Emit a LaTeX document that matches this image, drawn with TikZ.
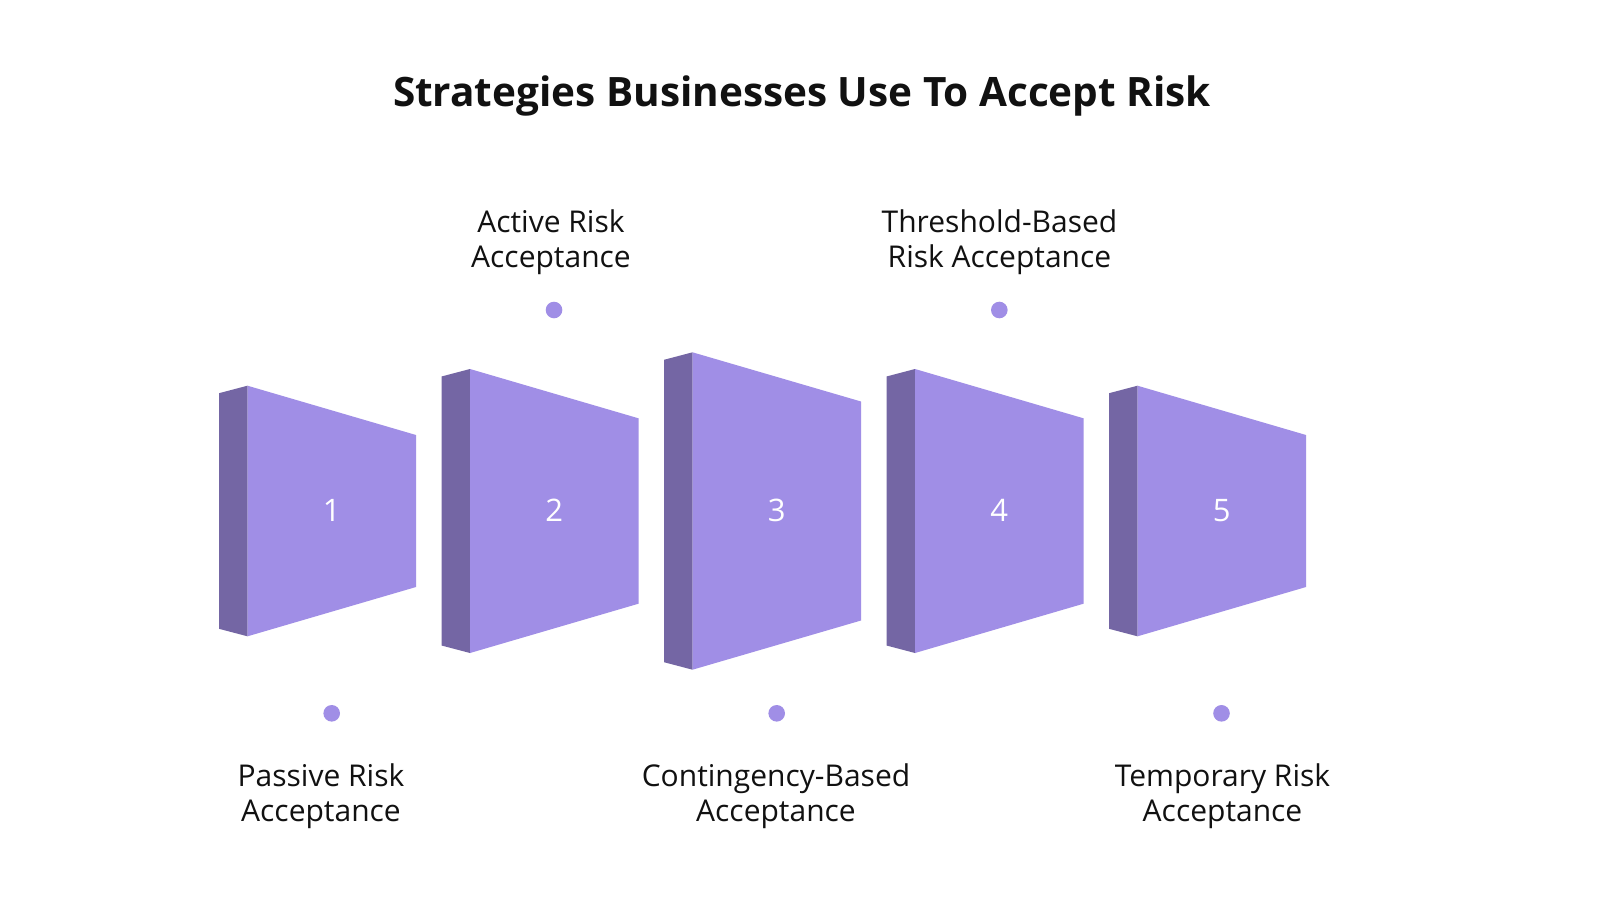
\documentclass[tikz,border=0pt]{standalone}
\usepackage{fontspec}
\setmainfont{Open Sans}
\definecolor{slabfront}{RGB}{160,142,230}
\definecolor{slabside}{RGB}{116,102,164}
\definecolor{labeltext}{RGB}{17,17,17}
\begin{document}
\begin{tikzpicture}[x=1pt,y=-1pt,
  titlestyle/.style={anchor=base,inner sep=0pt,text=labeltext,font=\fontsize{40.5}{48}\selectfont\bfseries},
  labelstyle/.style={anchor=base,inner sep=0pt,text=labeltext,font=\fontsize{30}{36}\selectfont},
  numstyle/.style={inner sep=0pt,text=white,font=\fontsize{31}{36}\selectfont},
  dotstyle/.style={circle,fill=slabfront,inner sep=0pt,minimum size=16.6pt}]
\useasboundingbox[fill=white] (0,0) rectangle (1600,900);
\node[titlestyle] (title) at (802,106.7) {Strategies Businesses Use To Accept Risk};
\foreach \i/\h/\r in {1/125.3/76, 2/142/92.7, 3/158.7/109.5, 4/142/92.7, 5/125.3/76} {
  \pgfmathsetmacro\sx{219+222.5*(\i-1)}
  \pgfmathsetmacro\fx{\sx+28.5}
  \pgfmathsetmacro\rx{\fx+168.5}
  \pgfmathsetmacro\cx{(\fx+\rx)/2}
  \fill[slabside] (\sx,{511-\h+7.5}) -- (\fx,{511-\h}) -- (\fx,{511+\h}) -- (\sx,{511+\h-7.5}) -- cycle;
  \fill[slabfront] (\fx,{511-\h}) -- (\rx,{511-\r}) -- (\rx,{511+\r}) -- (\fx,{511+\h}) -- cycle;
  \node[numstyle] (n\i) at (\cx,510.5) {\i};
}
\node[dotstyle] (d1) at (331.7,713.3) {};
\node[dotstyle] (d2) at (554,310) {};
\node[dotstyle] (d3) at (776.7,713.3) {};
\node[dotstyle] (d4) at (999.3,310) {};
\node[dotstyle] (d5) at (1221.5,713.3) {};
\node[labelstyle] (l2a) at (551,232.5) {Active Risk};
\node[labelstyle] (l2b) at (551,267) {Acceptance};
\node[labelstyle] (l4a) at (999.5,232.5) {Threshold-Based};
\node[labelstyle] (l4b) at (999.5,267) {Risk Acceptance};
\node[labelstyle] (l1a) at (321,786) {Passive Risk};
\node[labelstyle] (l1b) at (321,821) {Acceptance};
\node[labelstyle] (l3a) at (776,786) {Contingency-Based};
\node[labelstyle] (l3b) at (776,821) {Acceptance};
\node[labelstyle] (l5a) at (1222.5,786) {Temporary Risk};
\node[labelstyle] (l5b) at (1222.5,821) {Acceptance};
\end{tikzpicture}
\end{document}
